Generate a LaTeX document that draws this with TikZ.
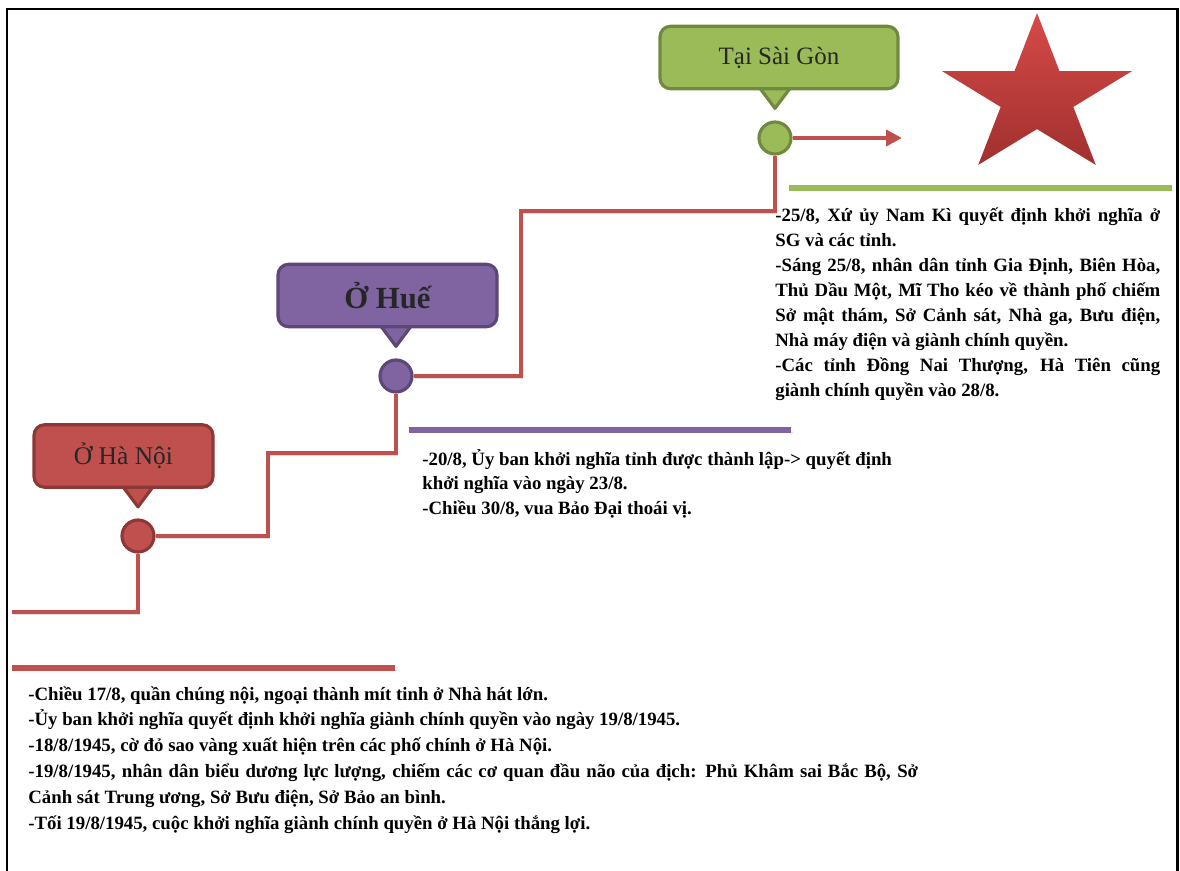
\documentclass[tikz,border=0pt]{standalone}
\usepackage{fontspec}
\setmainfont{Liberation Serif}
\usetikzlibrary{arrows.meta}
\definecolor{hnred}{HTML}{C0504D}
\definecolor{hnredd}{HTML}{8C3836}
\definecolor{huepurple}{HTML}{8064A2}
\definecolor{huepurpled}{HTML}{5C4776}
\definecolor{sggreen}{HTML}{9BBB59}
\definecolor{sggreend}{HTML}{71893F}
\definecolor{startop}{HTML}{D64A48}
\definecolor{starbot}{HTML}{A0302E}
\definecolor{labeltext}{HTML}{262626}

\begin{document}
\begin{tikzpicture}[x=0.02cm, y=-0.02cm, >=latex,
   tag/.style={rounded corners=6pt, line width=1.8pt, minimum height=1.25cm, text=labeltext},
   dot/.style={circle, line width=1.8pt, minimum size=0.64cm, inner sep=0pt},
   soft/.style={preaction={draw=black!13, transform canvas={xshift=1pt,yshift=-1.3pt}}},
   stair/.style={draw=hnred, line width=2.4pt},
   rule/.style={line width=3.6pt, soft},
   note/.style={anchor=base west, inner sep=0pt, font=\bfseries\fontsize{10.7}{14.2}\selectfont}
   ]
   \useasboundingbox (0,0) rectangle (1180,871);
   \draw[line width=1.7pt] (7,871) -- (7,9) -- (1177,9) -- (1177,871);

   % the three steps
   \node[dot, fill=hnred, draw=hnredd] (hnDot) at (138,536) {};
   \node[dot, fill=huepurple, draw=huepurpled] (hueDot) at (396,376) {};
   \node[dot, fill=sggreen, draw=sggreend] (sgDot) at (775,138) {};
   \coordinate (arrowTip) at (902,138);

   \draw[stair, soft] (12,612) -| (hnDot.south);
   \draw[stair, soft] (hnDot.east) -| (268,453) -| (hueDot.south);
   \draw[stair, soft] (hueDot.east) -| (521,211) -| (sgDot.south);
   \draw[stair, -{Triangle[length=9pt,width=9pt]}] (sgDot.east) -- (arrowTip);

   % labels with their pointers
   \path (123.5,456) node[tag, minimum width=3.58cm] (hn) {}
   (387.5,295.5) node[tag, minimum width=4.38cm] (hue) {}
   (779,57.5) node[tag, minimum width=4.76cm] (sg) {};
   \filldraw[fill=hnred, draw=hnredd, line width=1.8pt, line join=round]
     (hn.south -| hnDot) ++(-15,-2) -- ++(15,20) -- ++(15,-20) -- cycle;
   \filldraw[fill=huepurple, draw=huepurpled, line width=1.8pt, line join=round]
     (hue.south -| hueDot) ++(-15,-2) -- ++(15,20) -- ++(15,-20) -- cycle;
   \filldraw[fill=sggreen, draw=sggreend, line width=1.8pt, line join=round]
     (sg.south -| sgDot) ++(-15,-2) -- ++(15,20) -- ++(15,-20) -- cycle;
   \node[tag, minimum width=3.58cm, fill=hnred, draw=hnredd, font=\fontsize{14.5}{17}\selectfont] at (hn) {Ở Hà Nội};
   \node[tag, minimum width=4.38cm, fill=huepurple, draw=huepurpled, font=\bfseries\fontsize{17.5}{20}\selectfont] at (hue) {Ở Huế};
   \node[tag, minimum width=4.76cm, fill=sggreen, draw=sggreend, font=\fontsize{14.2}{17}\selectfont] at (sg) {Tại Sài Gòn};

   % star
   \shade[top color=startop, bottom color=starbot] (1037,13)
     \foreach \a/\rx/\ry in {126/38.2/32.1,162/100/84,198/38.2/32.1,234/100/84,270/38.2/32.1,306/100/84,342/38.2/32.1,18/100/84,54/38.2/32.1}
     {-- ({1037+\rx*cos(\a)},{97-\ry*sin(\a)})} -- cycle;

   % underlines
   \draw[rule, draw=sggreen] (789,188) -- (1172,188);
   \draw[rule, draw=huepurple] (409,430) -- (791,430);
   \draw[rule, draw=hnred] (12,668) -- (395,668);

   \node[note] (sgText) at (775,222) {\begin{minipage}[t]{7.7cm}\hyphenpenalty=10000
   -25/8, Xứ ủy Nam Kì quyết định khởi nghĩa ở\linebreak
   SG và các tỉnh.\par
   -Sáng 25/8, nhân dân tỉnh Gia Định, Biên Hòa,\linebreak
   Thủ Dầu Một, Mĩ Tho kéo về thành phố chiếm\linebreak
   Sở mật thám, Sở Cảnh sát, Nhà ga, Bưu điện,\linebreak
   Nhà máy điện và giành chính quyền.\par
   -Các tỉnh Đồng Nai Thượng, Hà Tiên cũng\linebreak
   giành chính quyền vào 28/8.
   \end{minipage}};

   \node[note] (hueText) at (422,465) {\begin{minipage}[t]{10cm}\raggedright
   -20/8, Ủy ban khởi nghĩa tỉnh được thành lập-> quyết định\\
   khởi nghĩa vào ngày 23/8.\\
   -Chiều 30/8, vua Bảo Đại thoái vị.
   \end{minipage}};

   \node[note, font=\bfseries\fontsize{10.7}{14.7}\selectfont] (hnText) at (28,700) {\begin{minipage}[t]{17.8cm}\hyphenpenalty=10000
   -Chiều 17/8, quần chúng nội, ngoại thành mít tinh ở Nhà hát lớn.\par
   -Ủy ban khởi nghĩa quyết định khởi nghĩa giành chính quyền vào ngày 19/8/1945.\par
   -18/8/1945, cờ đỏ sao vàng xuất hiện trên các phố chính ở Hà Nội.\par
   -19/8/1945, nhân dân biểu dương lực lượng, chiếm các cơ quan đầu não của địch: Phủ Khâm sai Bắc Bộ, Sở\linebreak
   Cảnh sát Trung ương, Sở Bưu điện, Sở Bảo an bình.\par
   -Tối 19/8/1945, cuộc khởi nghĩa giành chính quyền ở Hà Nội thắng lợi.
   \end{minipage}};
\end{tikzpicture}
\end{document}
